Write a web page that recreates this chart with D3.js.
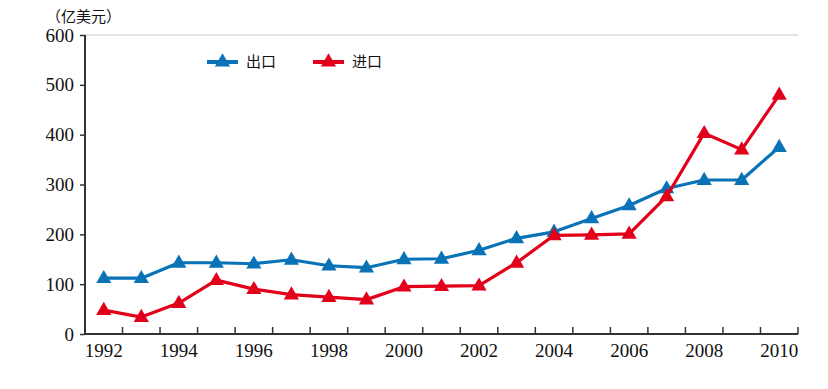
<!DOCTYPE html>
<html>
<head>
<meta charset="utf-8">
<script src="https://cdn.jsdelivr.net/npm/d3@7"></script>
<style>
  body { margin: 0; background: #fff; }
  svg { display: block; }
</style>
</head>
<body>
<script>
// data (亿美元)
var years = [1992, 1993, 1994, 1995, 1996, 1997, 1998, 1999, 2000, 2001,
             2002, 2003, 2004, 2005, 2006, 2007, 2008, 2009, 2010];
var exports = [112, 112, 143, 143, 141, 149, 137, 133, 150, 151,
               168, 192, 205, 232, 258, 292, 309, 309, 375];
var imports = [48, 34, 62, 108, 90, 79, 74, 69, 95, 96,
               97, 143, 198, 199, 201, 276, 403, 370, 480];
var yTicks = [0, 100, 200, 300, 400, 500, 600];
var xLabels = [1992, 1994, 1996, 1998, 2000, 2002, 2004, 2006, 2008, 2010];

var series = [
  { name: "出口", values: exports, color: "#0a72b6" },
  { name: "进口", values: imports, color: "#e2001a" }
];

var svgWidth = 828, svgHeight = 389;
var margin = { top: 35, right: 30, bottom: 55, left: 85 };
var width = svgWidth - margin.left - margin.right;
var height = svgHeight - margin.top - margin.bottom;

var svg = d3.select("body").append("svg")
  .attr("width", svgWidth)
  .attr("height", svgHeight);

var chartGroup = svg.append("g")
  .attr("transform", "translate(" + margin.left + "," + margin.top + ")");

var x = d3.scaleBand().domain(years).range([0, width]).padding(0);
var y = d3.scaleLinear().domain([0, 600]).range([height, 0]);

var numFont = "'Liberation Serif', 'DejaVu Serif', serif";
var cjkFont = "'Noto Sans CJK SC', sans-serif";

// top gridline
chartGroup.append("line")
  .attr("x1", 0).attr("x2", width)
  .attr("y1", y(600)).attr("y2", y(600))
  .attr("stroke", "#c8c8c8").attr("stroke-width", 1);

// y axis
var leftAxis = d3.axisLeft(y).tickValues(yTicks).tickSize(5).tickPadding(6);
var yAxis = chartGroup.append("g").call(leftAxis);
yAxis.select(".domain").attr("stroke", "#333").attr("stroke-width", 2)
  .attr("d", "M0," + y(600) + "V" + y(0));
yAxis.selectAll(".tick line").attr("stroke", "#333").attr("stroke-width", 1.5);
yAxis.selectAll(".tick text")
  .attr("font-family", numFont).attr("font-size", "19px").attr("fill", "#111");

// x axis: labels at category centres, ticks at category boundaries
var bottomAxis = d3.axisBottom(x).tickValues(xLabels).tickSize(0).tickPadding(10);
var xAxis = chartGroup.append("g")
  .attr("transform", "translate(0," + height + ")")
  .call(bottomAxis);
xAxis.select(".domain").attr("stroke", "#333").attr("stroke-width", 2)
  .attr("d", "M0,0H" + width);
xAxis.selectAll(".tick text")
  .attr("font-family", numFont).attr("font-size", "19px").attr("fill", "#111");

xAxis.selectAll(".bound")
  .data(years.slice(1).concat(["end"]))
  .enter()
  .append("line")
  .attr("class", "bound")
  .attr("x1", d => d === "end" ? width : x(d))
  .attr("x2", d => d === "end" ? width : x(d))
  .attr("y1", 0).attr("y2", -7)
  .attr("stroke", "#333").attr("stroke-width", 1.5);

// lines + triangle markers
var cx = d => x(d) + x.bandwidth() / 2;
var tri = d3.symbol().type(d3.symbolTriangle).size(100);

series.forEach(function (s) {
  var pts = years.map((yr, i) => [cx(yr), y(s.values[i])]);
  chartGroup.append("path")
    .attr("d", d3.line()(pts))
    .attr("fill", "none")
    .attr("stroke", s.color)
    .attr("stroke-width", 3.2)
    .attr("stroke-linejoin", "round");
  chartGroup.append("g").selectAll("path")
    .data(pts)
    .enter()
    .append("path")
    .attr("d", tri)
    .attr("transform", d => "translate(" + d[0] + "," + (d[1] + 0.5) + ")")
    .attr("fill", s.color);
});

// legend
var legend = svg.append("g").attr("transform", "translate(207,62)");
series.forEach(function (s, i) {
  var g = legend.append("g").attr("transform", "translate(" + (i * 106) + ",0)");
  g.append("line")
    .attr("x1", 0).attr("x2", 31).attr("y1", 0).attr("y2", 0)
    .attr("stroke", s.color).attr("stroke-width", 4);
  g.append("path").attr("d", tri).attr("transform", "translate(15.5,0)")
    .attr("fill", s.color);
  g.append("text")
    .attr("x", 39).attr("y", 0).attr("dy", "0.36em")
    .attr("font-family", cjkFont).attr("font-size", "15px").attr("fill", "#111")
    .text(s.name);
});

// unit label
svg.append("text")
  .attr("x", 46).attr("y", 22)
  .attr("font-family", cjkFont).attr("font-size", "15px").attr("fill", "#111")
  .text("（亿美元）");
</script>
</body>
</html>
